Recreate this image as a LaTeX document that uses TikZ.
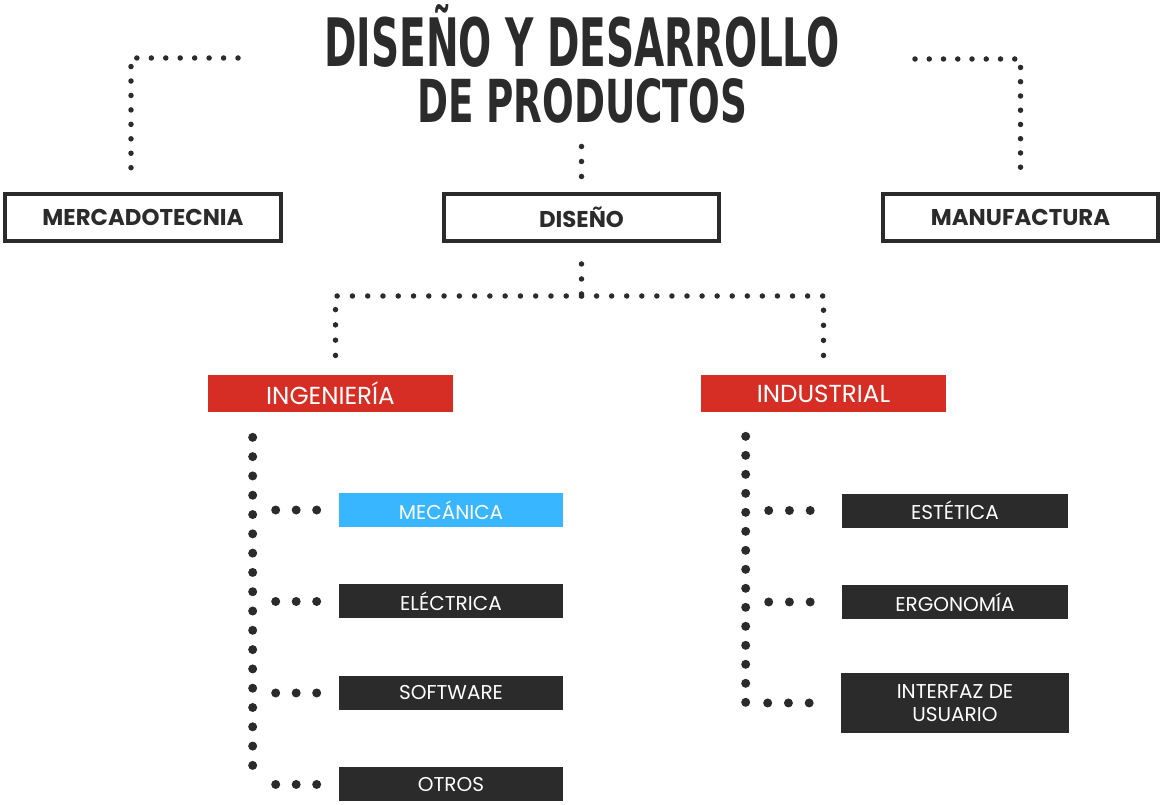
\documentclass[tikz,border=0pt]{standalone}
\usepackage{fontspec}
\usepackage{graphicx}
\setmainfont{Poppins}
\newfontfamily\titulo{DejaVu Sans Condensed Bold}
\definecolor{oscuro}{HTML}{2B2B2B}
\definecolor{rojo}{HTML}{D62E24}
\definecolor{celeste}{HTML}{38B6FF}

\begin{document}
\begin{tikzpicture}[x=0.02cm, y=-0.02cm, node distance={1.83cm},
    marco/.style = {draw=oscuro, line width=0.08cm, fill=white, minimum width=5.52cm, minimum height=0.94cm, inner sep=0pt, text=oscuro, font=\bfseries\fontsize{13}{15}\selectfont},
    rama/.style = {fill=rojo, text=white, minimum width=4.9cm, minimum height=0.74cm, inner sep=0pt, font=\fontsize{14}{16}\selectfont},
    hoja/.style = {fill=oscuro, text=white, minimum width=4.48cm, minimum height=0.68cm, inner sep=0pt, align=center, font=\fontsize{11.4}{13}\selectfont},
    puntos/.style = {draw=oscuro, line width=0.11cm, line cap=round, dash pattern=on 0pt off 0.29cm},
    gordos/.style = {draw=oscuro, line width=0.18cm, line cap=round}]
        \useasboundingbox (0,0) rectangle (1162,804);
        \node[anchor=south, inner sep=0pt, align=center, text=oscuro] (tit) at (582,123.5) {\resizebox{10.3cm}{1.24cm}{\titulo DISEÑO Y DESARROLLO}\\[0.18cm]\resizebox{6.6cm}{0.88cm}{\titulo DE PRODUCTOS}};
        \node[marco] (merc) at (143,217.5) {MERCADOTECNIA};
        \node[marco] (dis) at (581.5,217.5) {DISEÑO};
        \node[marco] (manu) at (1020.5,217.5) {MANUFACTURA};
        \node[rama] (ing) at (330.5,393.5) {INGENIERÍA};
        \node[rama] (ind) at (823.5,393.5) {INDUSTRIAL};
        \node[hoja, fill=celeste] (mec) at (451,510) {MECÁNICA};
        \node[hoja] (ele) [below of=mec] {ELÉCTRICA};
        \node[hoja] (soft) [below of=ele] {SOFTWARE};
        \node[hoja] (otr) [below of=soft] {OTROS};
        \node[hoja, minimum width=4.52cm] (est) at (955,510.5) {ESTÉTICA};
        \node[hoja, minimum width=4.52cm] (erg) [below of=est] {ERGONOMÍA};
        \node[hoja, minimum width=4.56cm, minimum height=1.2cm] (intf) [below of=erg, yshift=-0.19cm] {INTERFAZ DE\\USUARIO};
        % arriba
        \coordinate (ci) at (238,58);
        \coordinate (cd) at (915,59);
        \draw[puntos, dash pattern=on 0pt off 0.289cm, shorten >=0.48cm] (ci) -| ([xshift=-0.24cm]merc.north);
        \draw[puntos, dash pattern=on 0pt off 0.285cm, shorten >=0.48cm] (cd) -| (manu.north);
        \draw[puntos, dash pattern=on 0pt off 0.3cm, shorten <=0.46cm, shorten >=0.28cm] (tit.south -| dis.north) -- (dis.north);
        % diseño
        \draw[puntos, dash pattern=on 0pt off 0.3cm, shorten <=0.42cm] (dis.south) -- ++(0,53) coordinate (bar);
        \draw[puntos, dash pattern=on 0pt off 0.3055cm, shorten >=0.38cm] (bar) -| ([xshift=0.1cm]ing.north);
        \draw[puntos, dash pattern=on 0pt off 0.3015cm, shorten >=0.38cm] (bar) -| (ind.north);
        % ingenieria
        \coordinate (vi) at ([shift={(45,25)}]ing.south west);
        \draw[gordos, dash pattern=on 0pt off 0.386cm] (vi) -- (vi |- otr.west);
        \foreach \h in {mec,ele,soft,otr}
            \draw[gordos, dash pattern=on 0pt off 0.41cm] ([xshift=-1.26cm]\h.west) -- ([xshift=-0.43cm]\h.west);
        % industrial
        \coordinate (vd) at ([shift={(45,24)}]ind.south west);
        \draw[gordos, dash pattern=on 0pt off 0.38cm] (vd) -- (vd |- intf.west);
        \foreach \h in {est,erg,intf}
            \draw[gordos, dash pattern=on 0pt off 0.415cm] ([xshift=-1.46cm]\h.west) -- ([xshift=-0.62cm]\h.west);
    \end{tikzpicture}
\end{document}
